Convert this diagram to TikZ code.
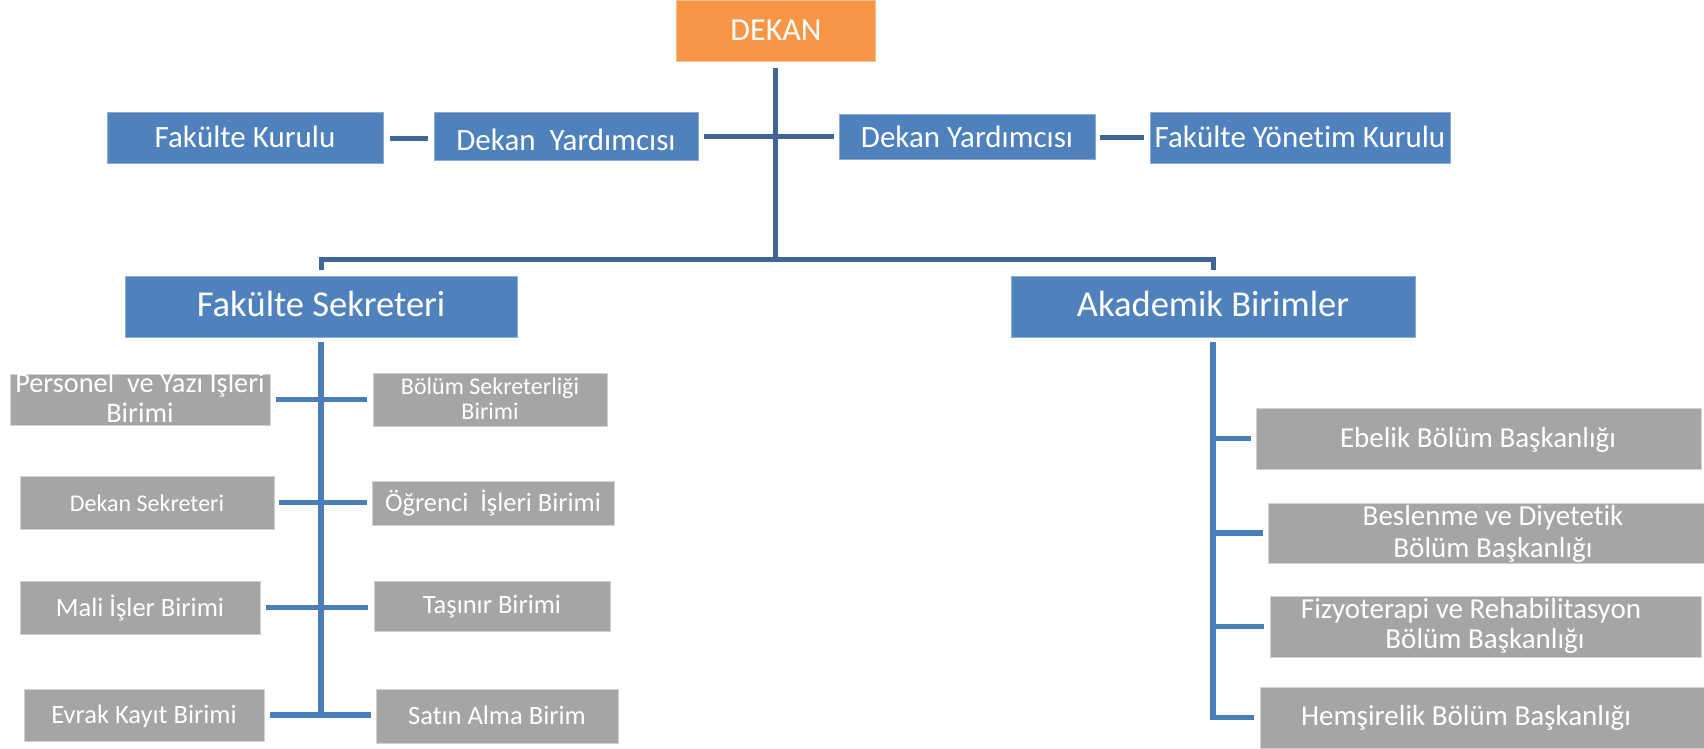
\documentclass[tikz,border=0pt]{standalone}
\usepackage{fontspec}
\setmainfont{Carlito}[Ligatures={NoCommon}]
\usetikzlibrary{calc}
\definecolor{orgbox}{RGB}{247,150,70}
\definecolor{bluebox}{RGB}{79,129,189}
\definecolor{graybox}{RGB}{165,165,165}
\definecolor{topline}{RGB}{63,101,148}
\definecolor{lowline}{RGB}{74,126,187}
\newcommand\fs[1]{\fontsize{#1}{#1}\selectfont}
\newcommand\mkbox[6]{\node[#1, anchor=north west, minimum width={(#5-#3)*1pt}, minimum height={(#6-#4)*1pt}] (#2) at (#3,#4) {};}
\begin{document}
\begin{tikzpicture}[x=1pt,y=-1pt,
  boxbase/.style={rectangle, inner sep=0pt, outer sep=0pt, line width=1pt},
  obox/.style={boxbase, fill=orgbox, draw=orgbox!60!white},
  bbox/.style={boxbase, fill=bluebox, draw=bluebox!65!white},
  gbox/.style={boxbase, fill=graybox, draw=graybox!50!white},
  lbl/.style={text=white, anchor=base, inner sep=0pt},
  tconn/.style={draw=topline, line width=5pt},
  lconn/.style={draw=lowline, line width=5.5pt}]
\useasboundingbox (0,0) rectangle (1704,749);

% boxes
\mkbox{obox}{dekan}{676}{1}{875}{62}
\mkbox{bbox}{fk}{107}{113}{383}{163}
\mkbox{bbox}{dyl}{434}{113}{698}{160}
\mkbox{bbox}{dyr}{839}{115}{1095}{159}
\mkbox{bbox}{fyk}{1150}{113}{1450}{163}
\mkbox{bbox}{fs}{125}{276}{517}{337}
\mkbox{bbox}{akad}{1011}{276}{1415}{337}

\mkbox{gbox}{pers}{10}{374}{270}{425}
\mkbox{gbox}{bolum}{373}{373}{607}{426}
\mkbox{gbox}{dsek}{20}{476}{274}{529}
\mkbox{gbox}{ogr}{372}{481}{614}{525}
\mkbox{gbox}{mali}{20}{581}{260}{634}
\mkbox{gbox}{tas}{374}{581}{610}{631}
\mkbox{gbox}{evrak}{24}{689}{264}{741}
\mkbox{gbox}{satin}{376}{689}{618}{743}

\mkbox{gbox}{ebe}{1256}{408}{1701}{469}
\mkbox{gbox}{bes}{1268}{503}{1704}{563}
\mkbox{gbox}{fiz}{1270}{596}{1701}{657}
\mkbox{gbox}{hem}{1260}{687}{1704}{748}

% labels
\node[lbl, font=\fs{32}] (dekan-t) at (776,41) {DEKAN};
\node[lbl, font=\fs{31}] (fk-t) at (245,147) {Fakülte Kurulu};
\node[lbl, font=\fs{31}] (dyl-t) at (566,150) {Dekan\ \ Yardımcısı};
\node[lbl, font=\fs{31}] (dyr-t) at (967,147) {Dekan Yardımcısı};
\node[lbl, font=\fs{31}] (fyk-t) at (1300,147) {Fakülte Yönetim Kurulu};
\node[lbl, font=\fs{36.5}] (fs-t) at (321,316) {Fakülte Sekreteri};
\node[lbl, font=\fs{36.5}] (akad-t) at (1213,316) {Akademik Birimler};

\node[lbl, font=\fs{28.3}] (pers-t1) at (140,392) {Personel\ \ ve Yazı İşleri};
\node[lbl, font=\fs{28.3}] (pers-t2) at (140,422) {Birimi};
\node[lbl, font=\fs{24}] (bolum-t1) at (490,394) {Bölüm Sekreterliği};
\node[lbl, font=\fs{24}] (bolum-t2) at (490,419) {Birimi};
\node[lbl, font=\fs{24}] (dsek-t) at (147,511) {Dekan Sekreteri};
\node[lbl, font=\fs{26.5}] (ogr-t) at (493,511) {Öğrenci\ \ İşleri Birimi};
\node[lbl, font=\fs{26.5}] (mali-t) at (140,616) {Mali İşler Birimi};
\node[lbl, font=\fs{26.5}] (tas-t) at (492,613) {Taşınır Birimi};
\node[lbl, font=\fs{26.5}] (evrak-t) at (144,723) {Evrak Kayıt Birimi};
\node[lbl, font=\fs{26.5}] (satin-t) at (497,724) {Satın Alma Birim};

\node[lbl, font=\fs{29}] (ebe-t) at (1478,447) {Ebelik Bölüm Başkanlığı};
\node[lbl, font=\fs{29}] (bes-t1) at (1493,525) {Beslenme ve Diyetetik};
\node[lbl, font=\fs{29}] (bes-t2) at (1493,557) {Bölüm Başkanlığı};
\node[lbl, font=\fs{29}] (fiz-t1) at (1471,618) {Fizyoterapi ve Rehabilitasyon};
\node[lbl, font=\fs{29}] (fiz-t2) at (1485,648) {Bölüm Başkanlığı};
\node[lbl, font=\fs{29}] (hem-t) at (1466,725) {Hemşirelik Bölüm Başkanlığı};

% top connectors
\coordinate (bar) at (776,259);
\draw[tconn] ([yshift=-6pt]dekan.south) -- (dekan.south |- bar);
\draw[tconn] ([yshift=6pt]fs.north) -- (fs.north |- bar) -- (akad.north |- bar) -- ([yshift=6pt]akad.north);
\draw[tconn] ([xshift=6pt]dyl.east) -- ([xshift=-5pt]dyr.west |- dyl.east);
\draw[tconn] ([xshift=7pt]fk.east) -- ([xshift=-6pt]dyl.west |- fk.east);
\draw[tconn] ([xshift=5pt]dyr.east) -- ([xshift=-6pt]fyk.west |- dyr.east);

% left tree
\draw[lconn] ([yshift=-5pt]fs.south) -- (fs.south |- evrak.east);
\draw[lconn] ([xshift=6pt]pers.east) -- ([xshift=-6pt]bolum.west |- pers.east);
\draw[lconn] ([xshift=5pt]dsek.east) -- ([xshift=-5pt]ogr.west |- dsek.east);
\draw[lconn] ([xshift=6pt]mali.east) -- ([xshift=-6pt]tas.west |- mali.east);
\draw[lconn] ([xshift=6pt]evrak.east) -- ([xshift=-5pt]satin.west |- evrak.east);

% right tree
\draw[lconn] ([yshift=-5pt]akad.south) -- (akad.south |- hem.west) -- ([xshift=-6pt]hem.west);
\draw[lconn] (akad.south |- ebe.west) -- ([xshift=-5pt]ebe.west);
\draw[lconn] (akad.south |- bes.west) -- ([xshift=-5pt]bes.west);
\draw[lconn] (akad.south |- fiz.west) -- ([xshift=-6pt]fiz.west);
\end{tikzpicture}
\end{document}
